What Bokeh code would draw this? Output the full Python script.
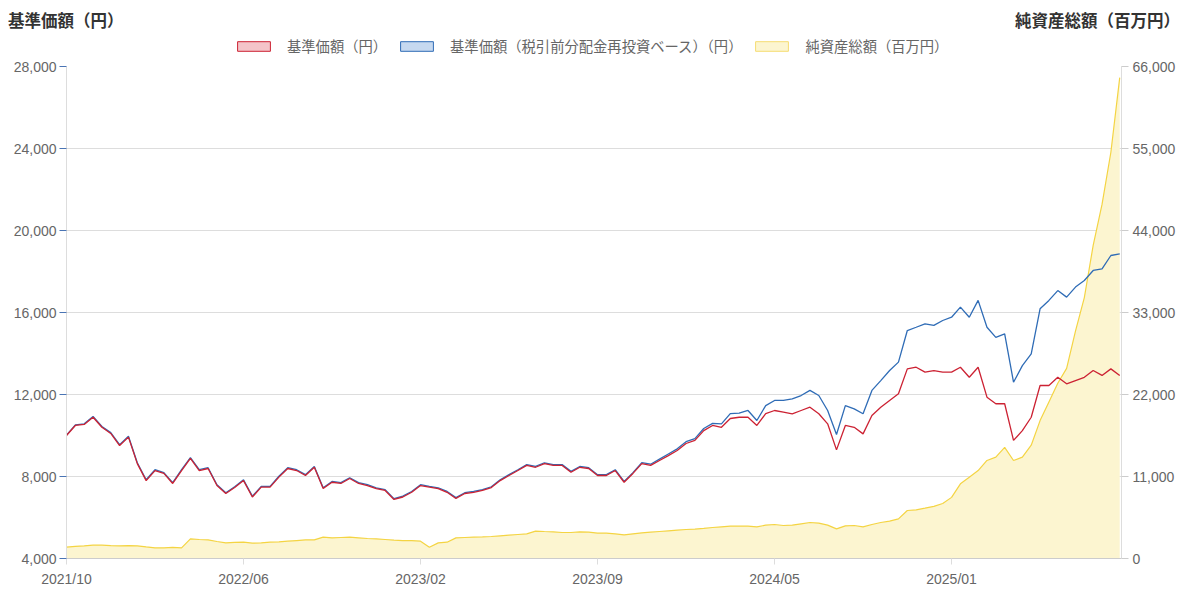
from bokeh.plotting import figure
from bokeh.layouts import column
from bokeh.models import (Range1d, LinearAxis, FixedTicker, NumeralTickFormatter,
                          Legend, LegendItem, ColumnDataSource, Div)
from bokeh.embed import file_html
from bokeh.resources import INLINE

# ---------------- data (sampled at equal trading-day steps) ----------------
tick_labels = ["2021/10", "2022/06", "2023/02", "2023/09", "2024/05", "2025/01"]
tick_index = [0, 20, 40, 60, 80, 100]

nav_price = [
    10000, 10490, 10540, 10890, 10400, 10100, 9510, 9920, 8630, 7800,
    8290, 8150, 7660, 8290, 8880, 8290, 8390, 7560, 7170, 7460,
    7800, 7000, 7480, 7480, 7970, 8390, 8290, 8050, 8450, 7410,
    7720, 7660, 7900, 7660, 7560, 7410, 7320, 6880, 7000, 7230,
    7560, 7480, 7410, 7230, 6930, 7170, 7230, 7320, 7460, 7800,
    8050, 8290, 8540, 8450, 8630, 8540, 8540, 8210, 8450, 8390,
    8050, 8050, 8290, 7720, 8150, 8630, 8540, 8780, 9020, 9270,
    9610, 9760, 10240, 10490, 10400, 10830, 10890, 10890, 10490, 11070,
    11220, 11140, 11060, 11220, 11380, 11060, 10570, 9300, 10490, 10400,
    10080, 10980, 11380, 11710, 12040, 13250, 13330, 13090, 13170, 13090,
    13090, 13330, 12840, 13330, 11870, 11550, 11550, 9760, 10240, 10890,
    12440, 12440, 12840, 12520, 12680, 12840, 13170, 12930, 13250, 12930,
]

nav_reinvested = [
    10020, 10520, 10570, 10930, 10440, 10140, 9550, 9960, 8670, 7840,
    8330, 8190, 7700, 8330, 8920, 8330, 8430, 7600, 7210, 7500,
    7840, 7040, 7520, 7520, 8010, 8430, 8330, 8090, 8490, 7450,
    7760, 7700, 7940, 7700, 7600, 7450, 7360, 6920, 7040, 7270,
    7600, 7520, 7450, 7270, 6970, 7210, 7270, 7360, 7500, 7840,
    8090, 8330, 8580, 8490, 8670, 8580, 8580, 8250, 8490, 8430,
    8090, 8090, 8330, 7760, 8190, 8680, 8600, 8850, 9100, 9350,
    9700, 9850, 10340, 10590, 10570, 11070, 11090, 11220, 10730, 11460,
    11710, 11710, 11790, 11950, 12200, 11950, 11220, 10050, 11460, 11300,
    11060, 12200, 12680, 13170, 13580, 15120, 15280, 15450, 15370, 15610,
    15770, 16260, 15770, 16590, 15280, 14790, 14960, 12600, 13410, 13980,
    16180, 16590, 17070, 16750, 17240, 17560, 18050, 18130, 18780, 18860,
]

net_assets = [
    1520, 1620, 1700, 1790, 1790, 1740, 1700, 1740, 1700, 1560,
    1430, 1430, 1480, 1430, 2640, 2550, 2500, 2280, 2100, 2150,
    2190, 2050, 2100, 2190, 2230, 2320, 2410, 2500, 2500, 2860,
    2770, 2820, 2860, 2770, 2680, 2640, 2550, 2460, 2410, 2410,
    2320, 1520, 2100, 2190, 2770, 2820, 2860, 2900, 2950, 3040,
    3130, 3220, 3310, 3670, 3620, 3580, 3490, 3490, 3580, 3530,
    3400, 3400, 3310, 3170, 3310, 3440, 3530, 3620, 3710, 3800,
    3890, 3940, 4030, 4160, 4250, 4340, 4340, 4340, 4250, 4470,
    4560, 4430, 4470, 4650, 4830, 4740, 4470, 3980, 4380, 4430,
    4250, 4560, 4830, 5010, 5320, 6440, 6530, 6750, 7000, 7380,
    8200, 10020, 10900, 11800, 13150, 13600, 14900, 13150, 13600, 15200,
    18500, 21000, 23500, 25500, 30500, 35000, 42000, 47500, 54500, 64500,
]

left_ticks = [4000, 8000, 12000, 16000, 20000, 24000, 28000]
right_ticks = [0, 11000, 22000, 33000, 44000, 55000, 66000]

series_labels = ["基準価額（円）", "基準価額（税引前分配金再投資ベース）（円）", "純資産総額（百万円）"]
left_title = "基準価額（円）"
right_title = "純資産総額（百万円）"

# ---------------- styling ----------------
RED = "#cc2233"
BLUE = "#2f6cb6"
YEL = "#f4d443"
YEL_FILL = "#fcf5d0"
JP = "Noto Sans CJK JP"
NUM = "Liberation Sans"

W = 1192
BL, BR = 66, 71
FW, FH = 1055, 492

# ---------------- header titles ----------------
head = Div(
    text=("<div style=\"display:flex;justify-content:space-between;width:%dpx;"
          "box-sizing:border-box;padding:10px 12px 0 8px;font-family:'%s';font-size:16.5px;"
          "font-weight:bold;color:#333333;line-height:20px;\">"
          "<span>%s</span><span>%s</span></div>") % (W, JP, left_title, right_title),
    width=W, height=32, margin=0)

idx = list(range(len(nav_price)))
src = ColumnDataSource(dict(x=idx, p=nav_price, r=nav_reinvested, n=net_assets,
                            z=[0] * len(idx)))

# ---------------- legend strip ----------------
leg = figure(frame_width=FW, frame_height=24, output_backend="svg",
             toolbar_location=None, x_axis_type=None, y_axis_type=None,
             x_range=Range1d(0, 119.2), y_range=Range1d(left_ticks[0], left_ticks[-1]),
             min_border_left=BL, min_border_right=BR, min_border_top=0,
             min_border_bottom=0, margin=0)
leg.outline_line_color = None
leg.xgrid.grid_line_color = None
leg.ygrid.grid_line_color = None
leg.border_fill_alpha = 0
leg.background_fill_alpha = 0

sw_red = leg.rect(x="x", y="p", source=src, width=1, height=1, fill_color="#f4c4c9",
                  line_color=RED, line_width=1, visible=False)
sw_blue = leg.rect(x="x", y="r", source=src, width=1, height=1, fill_color="#c6d9f0",
                   line_color=BLUE, line_width=1, visible=False)
sw_yel = leg.rect(x="x", y="n", source=src, width=1, height=1,
                  fill_color=YEL_FILL, line_color="#f6dc72", line_width=1, visible=False)

legend = Legend(items=[LegendItem(label=series_labels[0], renderers=[sw_red]),
                       LegendItem(label=series_labels[1], renderers=[sw_blue]),
                       LegendItem(label=series_labels[2], renderers=[sw_yel])],
                orientation="horizontal", location=(167, 0), click_policy="none",
                glyph_width=41, glyph_height=12, label_height=20,
                label_standoff=13, spacing=9, padding=0, margin=0,
                border_line_color=None, background_fill_alpha=0,
                label_text_font=JP, label_text_font_size="14.3px",
                label_text_color="#666666")
leg.add_layout(legend, "center")

# ---------------- main chart ----------------
p = figure(frame_width=FW, frame_height=FH, output_backend="svg",
           toolbar_location=None, x_range=Range1d(0, 119.2),
           y_range=Range1d(left_ticks[0], left_ticks[-1]),
           min_border_left=BL, min_border_right=BR, min_border_top=10,
           min_border_bottom=30, margin=0)
p.extra_y_ranges = {"nav": Range1d(right_ticks[0], right_ticks[-1])}
p.outline_line_color = None
p.border_fill_alpha = 0

# net assets (right axis)
p.varea(x="x", y1="z", y2="n", source=src, y_range_name="nav",
        fill_color=YEL_FILL, fill_alpha=1.0)
p.line(x="x", y="n", source=src, y_range_name="nav", line_color=YEL, line_width=1.2)
# prices
p.line(x="x", y="r", source=src, line_color=BLUE, line_width=1.3)
p.line(x="x", y="p", source=src, line_color=RED, line_width=1.3)

# axes
p.xaxis.ticker = FixedTicker(ticks=tick_index)
p.xaxis.major_label_overrides = {t: l for t, l in zip(tick_index, tick_labels)}
p.xaxis.axis_line_color = "#cccccc"
p.xaxis.major_tick_line_color = "#dddddd"
p.xaxis.major_tick_out = 6
p.xaxis.major_tick_in = 0
p.xaxis.minor_tick_line_color = None
p.xaxis.major_label_standoff = 6
p.xaxis.major_label_text_font = NUM
p.xaxis.major_label_text_font_size = "14px"
p.xaxis.major_label_text_color = "#666666"

p.yaxis.ticker = FixedTicker(ticks=left_ticks)
p.yaxis.formatter = NumeralTickFormatter(format="0,0")
p.yaxis.axis_line_color = "#dddddd"
p.yaxis.major_tick_line_color = "#4a74b4"
p.yaxis.major_tick_out = 7
p.yaxis.major_tick_in = 0
p.yaxis.minor_tick_line_color = None
p.yaxis.major_label_standoff = 3
p.yaxis.major_label_text_font = NUM
p.yaxis.major_label_text_font_size = "14px"
p.yaxis.major_label_text_color = "#666666"

ra = LinearAxis(y_range_name="nav", ticker=FixedTicker(ticks=right_ticks),
                formatter=NumeralTickFormatter(format="0,0"))
ra.axis_line_color = "#dddddd"
ra.major_tick_line_color = "#cccccc"
ra.major_tick_out = 7
ra.major_tick_in = 0
ra.minor_tick_line_color = None
ra.major_label_standoff = 4
ra.major_label_text_font = NUM
ra.major_label_text_font_size = "14px"
ra.major_label_text_color = "#666666"
p.add_layout(ra, "right")

p.xgrid.grid_line_color = None
p.ygrid.ticker = FixedTicker(ticks=left_ticks)
p.ygrid.grid_line_color = "#dddddd"

layout = column(head, leg, p, spacing=0)
open("out.html", "w").write(file_html(layout, INLINE))
